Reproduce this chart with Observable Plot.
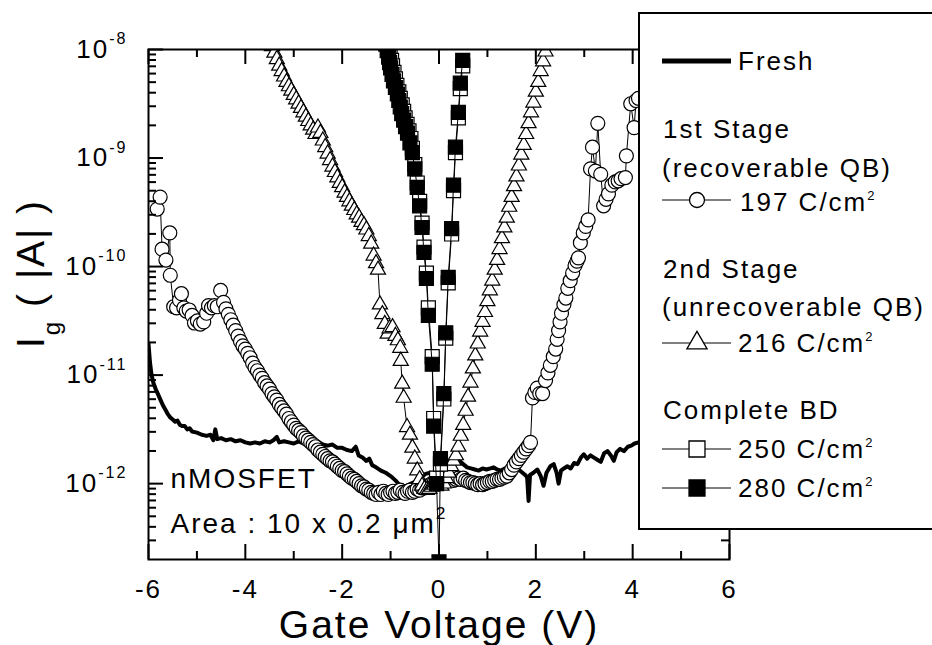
<!DOCTYPE html>
<html><head><meta charset="utf-8">
<script src="https://cdn.jsdelivr.net/npm/d3@7"></script>
<script src="https://cdn.jsdelivr.net/npm/@observablehq/plot@0.6"></script>
<style>
html,body{margin:0;padding:0;background:#fff;}
#chart{position:relative;width:932px;height:645px;overflow:hidden;}
</style></head><body><div id="chart"></div>
<script>
// ---- tick values / labels ----
const xMajor = [-6, -4, -2, 0, 2, 4, 6];
const xMinor = [-5, -3, -1, 1, 3, 5];
const yMajor = [1e-12, 1e-11, 1e-10, 1e-9, 1e-8];
const yMinor = [3e-13,4e-13,5e-13,6e-13,7e-13,8e-13,9e-13,
  2e-12,3e-12,4e-12,5e-12,6e-12,7e-12,8e-12,9e-12,
  2e-11,3e-11,4e-11,5e-11,6e-11,7e-11,8e-11,9e-11,
  2e-10,3e-10,4e-10,5e-10,6e-10,7e-10,8e-10,9e-10,
  2e-9,3e-9,4e-9,5e-9,6e-9,7e-9,8e-9,9e-9];
const xTitle = "Gate Voltage (V)";
const yTitle = "I_{g} ( |A| )";
const notes = ["nMOSFET", "Area : 10 x 0.2 \u03bcm^{2}"];
const legendHead = ["1st Stage", "(recoverable QB)", "2nd Stage", "(unrecoverable QB)", "Complete BD"];
const legendSeries = ["Fresh", "197 C/cm", "216 C/cm", "250 C/cm", "280 C/cm"];

// ---- series: [gate voltage (V), log10 |Ig| (A)] ----
const fresh = [[-6.00,-10.71],[-5.97,-10.88],[-5.94,-10.99],[-5.90,-11.07],[-5.85,-11.13],[-5.80,-11.18],[-5.75,-11.23],[-5.70,-11.28],[-5.65,-11.32],[-5.60,-11.36],[-5.55,-11.39],[-5.50,-11.41],[-5.45,-11.43],[-5.40,-11.42],[-5.35,-11.46],[-5.30,-11.47],[-5.25,-11.47],[-5.20,-11.50],[-5.15,-11.49],[-5.10,-11.52],[-5.00,-11.53],[-4.90,-11.55],[-4.80,-11.56],[-4.72,-11.55],[-4.66,-11.60],[-4.62,-11.50],[-4.58,-11.59],[-4.50,-11.58],[-4.40,-11.60],[-4.30,-11.59],[-4.20,-11.61],[-4.10,-11.60],[-4.00,-11.62],[-3.90,-11.63],[-3.80,-11.62],[-3.70,-11.63],[-3.60,-11.61],[-3.50,-11.62],[-3.42,-11.60],[-3.35,-11.57],[-3.30,-11.62],[-3.20,-11.61],[-3.10,-11.62],[-3.00,-11.63],[-2.90,-11.61],[-2.80,-11.63],[-2.70,-11.62],[-2.60,-11.63],[-2.50,-11.61],[-2.40,-11.64],[-2.30,-11.65],[-2.20,-11.64],[-2.10,-11.67],[-2.00,-11.67],[-1.90,-11.69],[-1.80,-11.70],[-1.72,-11.66],[-1.66,-11.74],[-1.58,-11.76],[-1.50,-11.79],[-1.44,-11.77],[-1.38,-11.83],[-1.30,-11.85],[-1.20,-11.88],[-1.10,-11.90],[-1.00,-11.93],[-0.90,-11.97],[-0.82,-12.01],[-0.74,-12.05],[-0.66,-12.02],[-0.58,-12.00],[-0.48,-11.98],[-0.38,-11.95],[-0.28,-11.91],[-0.18,-11.90],[-0.08,-11.92],[0.02,-11.90],[0.12,-11.86],[0.22,-11.83],[0.32,-11.80],[0.42,-11.79],[0.50,-11.82],[0.58,-11.85],[0.66,-11.86],[0.74,-11.87],[0.82,-11.88],[0.90,-11.86],[0.98,-11.87],[1.06,-11.86],[1.13,-11.85],[1.20,-11.87],[1.28,-11.88],[1.36,-11.86],[1.44,-11.88],[1.54,-11.88],[1.62,-11.86],[1.70,-11.89],[1.78,-11.92],[1.82,-11.94],[1.85,-12.16],[1.88,-11.92],[1.95,-11.90],[2.03,-11.87],[2.10,-11.93],[2.16,-12.02],[2.22,-11.90],[2.30,-11.84],[2.37,-11.82],[2.43,-11.90],[2.47,-12.00],[2.52,-11.88],[2.58,-11.86],[2.65,-11.84],[2.72,-11.86],[2.79,-11.81],[2.86,-11.82],[2.93,-11.76],[2.99,-11.73],[3.06,-11.77],[3.13,-11.74],[3.20,-11.76],[3.27,-11.78],[3.34,-11.80],[3.41,-11.72],[3.48,-11.70],[3.55,-11.74],[3.61,-11.79],[3.67,-11.71],[3.74,-11.68],[3.82,-11.70],[3.90,-11.66],[3.97,-11.65],[4.04,-11.63],[4.12,-11.62],[4.20,-11.61]];

const q197 = [[-5.82,-9.47],[-5.76,-9.36],[-5.72,-9.84],[-5.64,-9.94],[-5.56,-9.69],[-5.55,-10.08],[-5.48,-10.37],[-5.42,-10.38],[-5.36,-10.31],[-5.32,-10.25],[-5.27,-10.38],[-5.22,-10.41],[-5.16,-10.40],[-5.10,-10.45],[-5.05,-10.52],[-4.99,-10.50],[-4.93,-10.53],[-4.86,-10.51],[-4.80,-10.43],[-4.76,-10.36],[-4.70,-10.38],[-4.64,-10.36],[-4.58,-10.37],[-4.51,-10.22],[-4.45,-10.33],[-4.40,-10.39],[-4.35,-10.44],[-4.30,-10.49],[-4.25,-10.54],[-4.20,-10.59],[-4.15,-10.64],[-4.10,-10.69],[-4.05,-10.73],[-4.00,-10.76],[-3.95,-10.80],[-3.90,-10.84],[-3.85,-10.89],[-3.80,-10.93],[-3.75,-10.96],[-3.70,-11.00],[-3.65,-11.03],[-3.60,-11.07],[-3.55,-11.10],[-3.50,-11.13],[-3.45,-11.17],[-3.40,-11.20],[-3.35,-11.23],[-3.30,-11.27],[-3.25,-11.30],[-3.20,-11.33],[-3.15,-11.36],[-3.10,-11.40],[-3.05,-11.43],[-3.00,-11.46],[-2.95,-11.49],[-2.90,-11.51],[-2.85,-11.53],[-2.80,-11.56],[-2.75,-11.58],[-2.70,-11.60],[-2.65,-11.62],[-2.60,-11.64],[-2.55,-11.66],[-2.50,-11.69],[-2.45,-11.71],[-2.40,-11.73],[-2.35,-11.75],[-2.30,-11.77],[-2.25,-11.79],[-2.20,-11.80],[-2.15,-11.82],[-2.10,-11.84],[-2.05,-11.86],[-2.00,-11.88],[-1.95,-11.89],[-1.90,-11.91],[-1.85,-11.93],[-1.80,-11.95],[-1.75,-11.96],[-1.70,-11.98],[-1.65,-12.00],[-1.60,-12.02],[-1.55,-12.03],[-1.50,-12.05],[-1.45,-12.06],[-1.40,-12.08],[-1.35,-12.09],[-1.30,-12.10],[-1.25,-12.08],[-1.20,-12.10],[-1.15,-12.07],[-1.10,-12.09],[-1.05,-12.10],[-1.00,-12.08],[-0.95,-12.07],[-0.90,-12.09],[-0.85,-12.08],[-0.80,-12.06],[-0.75,-12.08],[-0.70,-12.09],[-0.65,-12.07],[-0.60,-12.06],[-0.55,-12.08],[-0.50,-12.07],[-0.45,-12.05],[-0.40,-12.06],[-0.35,-12.04],[-0.30,-12.04],[-0.25,-12.02],[-0.20,-12.02],[-0.15,-12.00],[-0.10,-11.99],[-0.05,-11.98],[0.00,-11.98],[0.05,-11.97],[0.10,-11.96],[0.15,-11.95],[0.20,-11.95],[0.25,-11.96],[0.30,-11.97],[0.35,-11.96],[0.40,-11.95],[0.45,-11.96],[0.50,-11.95],[0.55,-11.97],[0.60,-11.98],[0.65,-11.99],[0.70,-11.99],[0.75,-12.00],[0.80,-12.01],[0.85,-12.00],[0.90,-12.01],[0.95,-12.00],[1.00,-11.99],[1.05,-11.98],[1.10,-11.98],[1.15,-11.97],[1.20,-11.96],[1.25,-11.96],[1.30,-11.95],[1.35,-11.94],[1.40,-11.93],[1.45,-11.90],[1.50,-11.87],[1.55,-11.83],[1.60,-11.80],[1.65,-11.77],[1.70,-11.74],[1.75,-11.71],[1.80,-11.68],[1.85,-11.65],[1.89,-11.62],[1.93,-11.21],[1.98,-11.16],[2.03,-11.12],[2.08,-11.17],[2.14,-11.17],[2.20,-11.05],[2.25,-10.98],[2.30,-10.91],[2.36,-10.83],[2.41,-10.76],[2.44,-10.67],[2.47,-10.59],[2.50,-10.51],[2.53,-10.43],[2.58,-10.35],[2.62,-10.29],[2.66,-10.20],[2.71,-10.13],[2.76,-10.06],[2.81,-9.99],[2.85,-9.95],[2.88,-9.92],[2.92,-9.78],[2.98,-9.69],[3.03,-9.63],[3.08,-9.57],[3.13,-9.10],[3.17,-8.90],[3.23,-9.12],[3.28,-8.68],[3.34,-9.15],[3.40,-9.44],[3.45,-9.38],[3.50,-9.33],[3.57,-9.25],[3.64,-9.22],[3.70,-9.21],[3.76,-9.19],[3.85,-9.18],[3.87,-8.98],[3.96,-8.50],[4.03,-8.72],[4.07,-8.47],[4.12,-8.45]];

const q216 = [[-3.45,-7.97],[-3.40,-8.03],[-3.35,-8.09],[-3.30,-8.15],[-3.25,-8.20],[-3.20,-8.25],[-3.15,-8.30],[-3.10,-8.34],[-3.05,-8.38],[-3.00,-8.42],[-2.95,-8.46],[-2.90,-8.50],[-2.85,-8.54],[-2.80,-8.58],[-2.75,-8.62],[-2.70,-8.66],[-2.65,-8.70],[-2.60,-8.74],[-2.55,-8.78],[-2.50,-8.72],[-2.45,-8.77],[-2.40,-8.84],[-2.35,-8.90],[-2.30,-8.96],[-2.25,-9.02],[-2.20,-9.08],[-2.15,-9.13],[-2.10,-9.18],[-2.05,-9.23],[-2.00,-9.27],[-1.95,-9.32],[-1.90,-9.36],[-1.85,-9.40],[-1.80,-9.44],[-1.75,-9.48],[-1.70,-9.52],[-1.65,-9.55],[-1.60,-9.59],[-1.55,-9.62],[-1.50,-9.66],[-1.45,-9.72],[-1.40,-9.79],[-1.35,-9.90],[-1.30,-9.97],[-1.26,-10.03],[-1.22,-10.35],[-1.17,-10.44],[-1.12,-10.53],[-1.06,-10.62],[-1.02,-10.57],[-0.96,-10.56],[-0.90,-10.64],[-0.85,-10.68],[-0.80,-10.75],[-0.79,-10.87],[-0.76,-11.08],[-0.73,-11.21],[-0.66,-11.48],[-0.60,-11.55],[-0.55,-11.67],[-0.50,-11.77],[-0.45,-11.88],[-0.40,-11.96],[-0.35,-12.02],[-0.30,-12.05],[-0.25,-12.06],[-0.20,-12.05],[-0.15,-12.03],[-0.10,-12.01],[-0.05,-11.99],[0.00,-12.00],[0.05,-12.02],[0.10,-12.00],[0.15,-11.95],[0.20,-11.90],[0.25,-11.84],[0.30,-11.79],[0.35,-11.74],[0.40,-11.66],[0.45,-11.56],[0.50,-11.46],[0.55,-11.33],[0.60,-11.20],[0.65,-11.07],[0.70,-10.94],[0.75,-10.82],[0.80,-10.71],[0.85,-10.60],[0.90,-10.51],[0.95,-10.42],[1.00,-10.32],[1.05,-10.22],[1.10,-10.13],[1.15,-10.03],[1.20,-9.94],[1.25,-9.84],[1.30,-9.74],[1.35,-9.64],[1.40,-9.55],[1.45,-9.45],[1.50,-9.36],[1.55,-9.26],[1.60,-9.17],[1.65,-9.07],[1.70,-8.97],[1.75,-8.88],[1.80,-8.78],[1.85,-8.68],[1.90,-8.58],[1.95,-8.49],[2.00,-8.39],[2.05,-8.30],[2.10,-8.20],[2.15,-8.11],[2.20,-8.02],[2.25,-7.93]];

const q250 = [[-1.05,-7.97],[-1.01,-8.04],[-0.98,-8.10],[-0.96,-8.15],[-0.93,-8.21],[-0.90,-8.27],[-0.87,-8.33],[-0.83,-8.39],[-0.80,-8.45],[-0.76,-8.51],[-0.73,-8.57],[-0.70,-8.63],[-0.66,-8.69],[-0.62,-8.75],[-0.58,-8.82],[-0.55,-8.91],[-0.50,-9.06],[-0.45,-9.23],[-0.40,-9.40],[-0.35,-9.60],[-0.31,-9.82],[-0.26,-10.06],[-0.22,-10.38],[-0.14,-10.83],[-0.11,-11.40],[-0.05,-11.95],[0.03,-11.82],[0.10,-11.22],[0.14,-10.66],[0.19,-10.15],[0.26,-9.70],[0.30,-9.30],[0.34,-8.95],[0.40,-8.63],[0.44,-8.36],[0.49,-8.15]];

const q280 = [[-1.10,-7.95],[-1.07,-8.01],[-1.04,-8.07],[-1.02,-8.12],[-1.00,-8.17],[-0.97,-8.23],[-0.94,-8.29],[-0.90,-8.35],[-0.86,-8.41],[-0.83,-8.47],[-0.80,-8.53],[-0.77,-8.59],[-0.73,-8.65],[-0.69,-8.71],[-0.65,-8.77],[-0.60,-8.86],[-0.55,-8.95],[-0.50,-9.10],[-0.45,-9.27],[-0.40,-9.44],[-0.35,-9.64],[-0.31,-9.87],[-0.26,-10.11],[-0.22,-10.45],[-0.14,-10.90],[-0.11,-11.47],[-0.05,-12.00],[0.00,-12.72],[0.03,-11.77],[0.10,-11.17],[0.14,-10.61],[0.19,-10.10],[0.26,-9.65],[0.30,-9.25],[0.34,-8.90],[0.40,-8.58],[0.44,-8.31],[0.49,-8.10]];

const rows = (pairs) => pairs.map(([V, e]) => ({V, I: Math.pow(10, e)}));
const dFresh = rows(fresh), d197 = rows(q197), d216 = rows(q216), d250 = rows(q250), d280 = rows(q280);

// frame is 581 x 510 px; ticks point inward (major 15 px, minor 8 px)
const FW = 581, FH = 510, MAJ = 15, MIN = 8;
const tk = {stroke: "#000", strokeWidth: 2};

const chart = Plot.plot({
  width: 932, height: 645,
  marginLeft: 148, marginRight: 203, marginTop: 49, marginBottom: 86,
  style: {fontFamily: "'Liberation Sans', Arial, sans-serif", background: "#fff", color: "#000"},
  x: {domain: [-6, 6], axis: null},
  y: {type: "log", domain: [2e-13, 1e-8], axis: null},
  marks: [
    Plot.line(dFresh, {x: "V", y: "I", stroke: "#000", strokeWidth: 4, clip: true}),
    Plot.line(d197, {x: "V", y: "I", stroke: "#000", strokeWidth: 1, clip: true}),
    Plot.dot(d197, {x: "V", y: "I", symbol: "circle", r: 7, fill: "#fff", stroke: "#000", strokeWidth: 1.2, clip: true}),
    Plot.line(d216, {x: "V", y: "I", stroke: "#000", strokeWidth: 1, clip: true}),
    Plot.dot(d216, {x: "V", y: "I", symbol: "triangle", r: 5.6, fill: "#fff", stroke: "#000", strokeWidth: 1.2, clip: true}),
    Plot.line(d250, {x: "V", y: "I", stroke: "#000", strokeWidth: 1, clip: true}),
    Plot.dot(d250, {x: "V", y: "I", symbol: "square", r: 7.9, fill: "#fff", stroke: "#000", strokeWidth: 1.2, clip: true}),
    Plot.line(d280, {x: "V", y: "I", stroke: "#000", strokeWidth: 1, clip: true}),
    Plot.dot(d280, {x: "V", y: "I", symbol: "square", r: 7.9, fill: "#000", stroke: "#000", strokeWidth: 1.2, clip: true}),
    Plot.frame({stroke: "#000", strokeWidth: 2}),
    // inward ticks on all four sides
    Plot.ruleX(xMajor, {x: d => d, insetTop: FH - MAJ, ...tk}),
    Plot.ruleX(xMinor, {x: d => d, insetTop: FH - MIN, ...tk}),
    Plot.ruleX(xMajor, {x: d => d, insetBottom: FH - MAJ, ...tk}),
    Plot.ruleX(xMinor, {x: d => d, insetBottom: FH - MIN, ...tk}),
    Plot.ruleY(yMajor, {y: d => d, insetRight: FW - MAJ, ...tk}),
    Plot.ruleY(yMinor, {y: d => d, insetRight: FW - MIN, ...tk}),
    Plot.ruleY(yMajor, {y: d => d, insetLeft: FW - MAJ, ...tk}),
    Plot.ruleY(yMinor, {y: d => d, insetLeft: FW - MIN, ...tk}),
    // tick labels
    Plot.axisX(xMajor, {anchor: "bottom", tickSize: 0, tickPadding: 20, fontSize: 26, tickFormat: d => String(d), label: null}),
    Plot.axisY(yMajor, {anchor: "left", tickSize: 0, tickPadding: 21, fontSize: 26, tickFormat: d => `10^{${Math.round(Math.log10(d))}}`, label: null}),
    // titles and annotations
    Plot.text([xTitle], {text: d => d, frameAnchor: "bottom", textAnchor: "middle", lineAnchor: "middle", dy: 66, fontSize: 39}),
    Plot.text([yTitle], {text: d => d, frameAnchor: "left", textAnchor: "middle", lineAnchor: "middle", rotate: -90, dx: -117, dy: -31, fontSize: 39}),
    Plot.text([notes[0]], {text: d => d, frameAnchor: "bottom-left", textAnchor: "start", lineAnchor: "middle", dx: 22, dy: -80, fontSize: 28, ariaLabel: "note"}),
    Plot.text([notes[1]], {text: d => d, frameAnchor: "bottom-left", textAnchor: "start", lineAnchor: "middle", dx: 22, dy: -35, fontSize: 28, ariaLabel: "note"})
  ]
});
chart.style.letterSpacing = "2px";
document.getElementById("chart").appendChild(chart);

// rich text: ^{..} superscript, _{..} subscript
function richText(el) {
  const s = el.textContent;
  if (!/[\^_]\{/.test(s)) return;
  const fs = parseFloat(getComputedStyle(el).fontSize);
  el.textContent = "";
  let cur = 0, last = 0, m;
  const re = /([\^_])\{([^}]*)\}/g;
  const add = (t, off, size) => {
    const ts = document.createElementNS("http://www.w3.org/2000/svg", "tspan");
    ts.textContent = t;
    if (off !== cur) ts.setAttribute("dy", off - cur);
    cur = off;
    if (size) ts.setAttribute("font-size", size);
    el.appendChild(ts);
  };
  while ((m = re.exec(s))) {
    if (m.index > last) add(s.slice(last, m.index), 0);
    if (m[1] === "^") add(m[2], -0.52 * fs, 0.62 * fs); else add(m[2], 0.4 * fs, 0.62 * fs);
    last = re.lastIndex;
  }
  if (last < s.length) add(s.slice(last), 0);
}
chart.querySelectorAll("text").forEach(richText);
d3.select(chart).selectAll('g[aria-label="note"] text').style("letter-spacing", "3.5px");

// legend box
const svg = d3.select(chart);
const lg = svg.append("g").attr("font-size", 26).attr("fill", "#000").attr("text-anchor", "start");
lg.append("rect").attr("x", 639).attr("y", 13).attr("width", 300).attr("height", 516)
  .attr("fill", "#fff").attr("stroke", "#000").attr("stroke-width", 2);
function ltext(str, x, y, sup) {
  const t = lg.append("text").attr("x", x).attr("y", y).attr("text-anchor", "start");
  t.append("tspan").text(str);
  if (sup) t.append("tspan").attr("dy", -11).attr("font-size", 13).text(sup);
}
function sampleLine(y, w) {
  lg.append("line").attr("x1", 662).attr("x2", 731).attr("y1", y).attr("y2", y)
    .attr("stroke", "#000").attr("stroke-width", w);
}
function sampleSym(type, r, y, fill) {
  lg.append("path").attr("transform", `translate(697,${y})`)
    .attr("d", d3.symbol(type, r * r * Math.PI)())
    .attr("fill", fill).attr("stroke", "#000").attr("stroke-width", 1.3);
}
sampleLine(61, 5);
ltext(legendSeries[0], 738, 70);
ltext(legendHead[0], 663, 138);
ltext(legendHead[1], 662, 177);
sampleLine(200, 1); sampleSym(d3.symbolCircle, 7.5, 200, "#fff");
ltext(legendSeries[1], 740, 211, "2");
ltext(legendHead[2], 663, 278);
ltext(legendHead[3], 662, 316);
sampleLine(343, 1); sampleSym(d3.symbolTriangle, 7.5, 343, "#fff");
ltext(legendSeries[2], 738, 352, "2");
ltext(legendHead[4], 663, 419);
sampleLine(449, 1); sampleSym(d3.symbolSquare, 9, 449, "#fff");
ltext(legendSeries[3], 738, 458, "2");
sampleLine(488, 1); sampleSym(d3.symbolSquare, 9, 488, "#000");
ltext(legendSeries[4], 738, 497, "2");
</script></body></html>
